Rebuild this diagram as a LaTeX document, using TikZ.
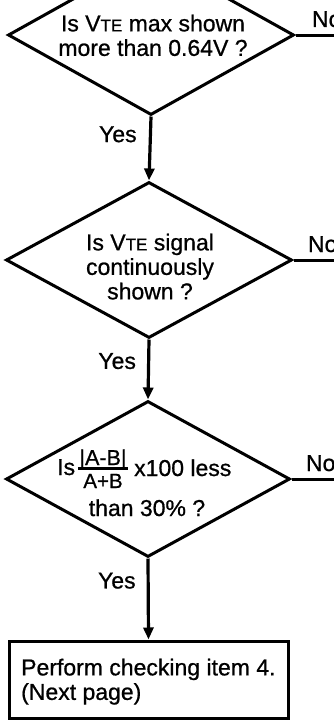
\documentclass[tikz,border=0pt]{standalone}
\usepackage{fontspec}
\setmainfont{Liberation Sans}
\newfontfamily\diagfont{Liberation Sans}[FakeBold=0.8]
\usetikzlibrary{shapes.geometric,arrows.meta}
\newcommand{\tesize}{\fontsize{17}{17}\selectfont}
\begin{document}
\begin{tikzpicture}[x=1pt,y=-1pt,
  lbl/.style={font=\diagfont\fontsize{23}{24.5}\selectfont, inner sep=0pt},
  fracpart/.style={lbl, anchor=base},
  dec/.style 2 args={diamond, draw, line width=3pt, inner sep=0pt, minimum width=#1, minimum height=#2},
  stepbox/.style={draw, line width=3pt, inner sep=0pt, minimum width=279pt, minimum height=77pt},
  conn/.style={line width=3.2pt, -{Triangle[width=10pt,length=12pt]}},
  noline/.style={line width=3pt},
  yes/.style={lbl, anchor=base east},
  no/.style={lbl, anchor=base west, pos=0, yshift=8pt}
]
\clip (0,0) rectangle (334,720);
% shapes
\node[dec={286pt}{160pt}] (d1) at (151,35) {};
\node[dec={286pt}{156pt}] (d2) at (149,260) {};
\node[dec={284pt}{156pt}] (d3) at (148,479) {};
\node[stepbox] (b4) at (148.5,679.5) {};
% texts
\node[lbl, align=center, anchor=north] (t1) at (153,14.5) {Is V{\tesize TE} max shown\\more than 0.64V ?};
\node[lbl, align=center, anchor=north] (t2) at (150,233.5) {Is V{\tesize TE} signal\\continuously\\shown ?};
\node[lbl, anchor=base west] (t3a) at (57,475) {Is};
\node[fracpart, font=\diagfont\fontsize{21.5}{22}\selectfont] (t3n) at (103,465) {|A-B|};
\node[fracpart, font=\diagfont\fontsize{20.5}{22}\selectfont] (t3d) at (103,488) {A+B};
\coordinate (fb1) at (78,468.5);
\coordinate (fb2) at (128,468.5);
\draw[line width=2.2pt] (fb1) -- (fb2);
\node[lbl, anchor=base west] (t3c) at (134,476) {x100 less};
\node[lbl, anchor=base] (t3e) at (147,516) {than 30\% ?};
\node[lbl, align=left, anchor=north west] (t4) at (21,658.5) {Perform checking item 4.\\(Next page)};
% connectors
\draw[conn] (d1.south) -- node[yes, pos=0.40, xshift=-12pt] {Yes} (d2.north);
\draw[conn] (d2.south) -- node[yes, pos=0.49, xshift=-11pt] {Yes} (d3.north);
\draw[conn] (d3.south) -- node[yes, pos=0.37, xshift=-11pt] {Yes} (b4.north);
\coordinate (n1) at (345,35);
\coordinate (n2) at (345,260);
\coordinate (n3) at (345,479);
\draw[noline] (d1.east) -- node[no, xshift=15pt] {No} (n1);
\draw[noline] (d2.east) -- node[no, xshift=13pt] {No} (n2);
\draw[noline] (d3.east) -- node[no, xshift=13pt] {No} (n3);
\end{tikzpicture}
\end{document}
